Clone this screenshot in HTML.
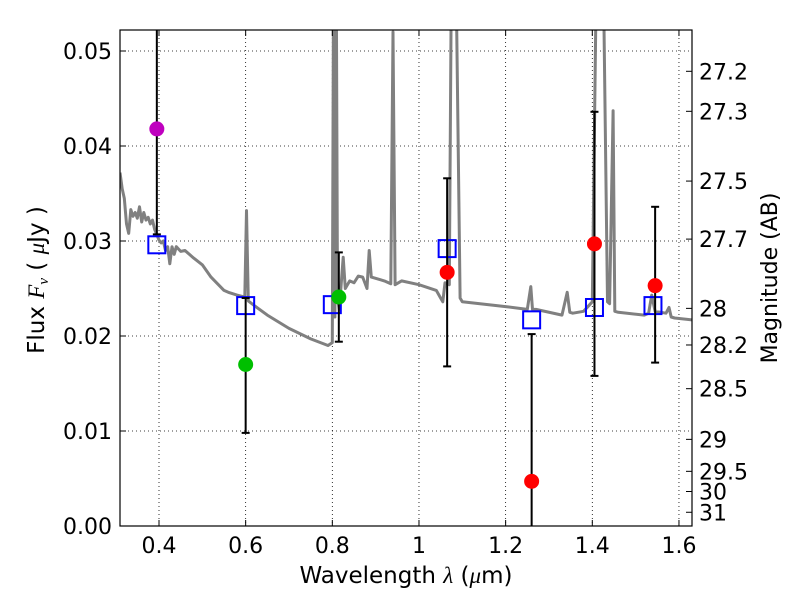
<!DOCTYPE html>
<html><head><meta charset="utf-8"><style>
body{margin:0;background:#fff}
svg text{font-family:"DejaVu Sans","Liberation Sans",sans-serif;fill:#000}
</style></head><body>
<svg id="chart" width="800" height="600" xmlns="http://www.w3.org/2000/svg">
<defs><clipPath id="clip"><rect x="120" y="30" width="572" height="496"/></clipPath></defs>
<g id="grid"></g>
<g id="spec" clip-path="url(#clip)"></g>
<g id="marks" clip-path="url(#clip)"></g>
<rect x="120" y="30" width="572" height="496" fill="none" stroke="#000" stroke-width="1.2"/>
<g id="axes"></g>
<text x="406" y="583" font-size="23" text-anchor="middle">Wavelength  <tspan font-family="Liberation Serif" font-style="italic">λ</tspan> (<tspan font-family="Liberation Serif" font-style="italic">μ</tspan>m)</text>
<text transform="translate(44,280) rotate(-90)" font-size="23" text-anchor="middle">Flux  <tspan font-family="Liberation Serif" font-style="italic">F</tspan><tspan font-family="Liberation Serif" font-style="italic" font-size="15" dy="4">ν</tspan><tspan dy="-4">  ( </tspan><tspan font-family="Liberation Serif" font-style="italic">μ</tspan>Jy )</text>
<text transform="translate(777,278) rotate(-90)" font-size="22" text-anchor="middle">Magnitude (AB)</text>
</svg>
<script>
const xTicks=[0.4,0.6,0.8,1.0,1.2,1.4,1.6];
const xTickLabels=["0.4","0.6","0.8","1","1.2","1.4","1.6"];
const yTicks=[0,0.01,0.02,0.03,0.04,0.05];
const yTickLabels=["0.00","0.01","0.02","0.03","0.04","0.05"];
const magTicks=[27.2,27.3,27.5,27.7,28,28.2,28.5,29,29.5,30,31];
const specWave=[0.31,0.315,0.32,0.325,0.33,0.335,0.34,0.345,0.35,0.355,0.36,0.365,0.37,0.375,0.38,0.385,0.39,0.40,0.405,0.41,0.415,0.42,0.425,0.43,0.435,0.44,0.45,0.46,0.47,0.48,0.50,0.52,0.55,0.56,0.58,0.598,0.602,0.606,0.62,0.65,0.70,0.75,0.79,0.80,0.803,0.806,0.809,0.812,0.816,0.82,0.825,0.83,0.84,0.85,0.86,0.87,0.88,0.885,0.89,0.92,0.935,0.94,0.945,0.96,1.0,1.04,1.05,1.055,1.06,1.07,1.075,1.085,1.095,1.10,1.2,1.25,1.258,1.262,1.27,1.33,1.342,1.348,1.355,1.38,1.40,1.41,1.425,1.435,1.44,1.448,1.452,1.46,1.52,1.53,1.537,1.545,1.57,1.577,1.582,1.59,1.63];
const specFlux=[0.0372,0.0355,0.0345,0.0318,0.0308,0.0333,0.0326,0.0330,0.0324,0.0336,0.0320,0.0330,0.0322,0.0325,0.0318,0.0322,0.0312,0.0301,0.0298,0.0300,0.0290,0.0294,0.0276,0.0294,0.0286,0.0294,0.0289,0.0290,0.0286,0.0282,0.0275,0.0262,0.0248,0.0246,0.0243,0.0241,0.0332,0.0237,0.0232,0.0222,0.0208,0.0197,0.0190,0.0193,0.0600,0.0220,0.0600,0.0240,0.0228,0.0252,0.0283,0.0250,0.0258,0.0256,0.0263,0.0262,0.0250,0.0290,0.0262,0.0258,0.0255,0.0520,0.0254,0.0258,0.0254,0.0248,0.0240,0.0236,0.0256,0.0254,0.0600,0.0600,0.0240,0.0236,0.0231,0.0228,0.0252,0.0228,0.0228,0.0222,0.0246,0.0225,0.0224,0.0226,0.0236,0.0600,0.0600,0.0236,0.0234,0.0437,0.0226,0.0225,0.0222,0.0224,0.0243,0.0226,0.0224,0.0230,0.0220,0.0219,0.0217];
const modelWave=[0.395,0.60,0.80,1.065,1.26,1.405,1.54];
const modelFlux=[0.0296,0.0232,0.0233,0.0292,0.0217,0.0230,0.0232];
const obsWave=[0.395,0.60,0.815,1.065,1.26,1.405,1.545];
const obsFlux=[0.0418,0.0170,0.0241,0.0267,0.0047,0.0297,0.0253];
const obsLow=[0.0307,0.0098,0.0194,0.0168,-0.005,0.0158,0.0172];
const obsHigh=[0.080,0.0240,0.0288,0.0366,0.0202,0.0436,0.0336];
const obsColor=["#bf00bf","#00bf00","#00bf00","#ff0000","#ff0000","#ff0000","#ff0000"];

const X=w=>159+(w-0.4)*433.3;
const Y=f=>526-f*9500;
const NS="http://www.w3.org/2000/svg";
function mk(tag,attrs,parent){const e=document.createElementNS(NS,tag);for(const k in attrs)e.setAttribute(k,attrs[k]);document.getElementById(parent).appendChild(e);return e;}

xTicks.forEach((t,i)=>{
  const x=X(t);
  if(x>121&&x<691){const g=mk('line',{x1:x,x2:x,y1:30,y2:526,stroke:'#000','stroke-width':0.8,'stroke-dasharray':'1,3'},'grid');
  
  }
  const a=mk('line',{x1:x,x2:x,y1:526,y2:520,stroke:'#000'},'axes');
  
  
  const b=mk('line',{x1:x,x2:x,y1:30,y2:36,stroke:'#000'},'axes');
  
  
  const tx=mk('text',{x:x,y:553,'font-size':22,'text-anchor':'middle'},'axes');
  tx.textContent=xTickLabels[i];
  
  
});
yTicks.forEach((t,i)=>{
  const y=Y(t);
  if(y>31&&y<525){const g=mk('line',{x1:120,x2:692,y1:y,y2:y,stroke:'#000','stroke-width':0.8,'stroke-dasharray':'1,3'},'grid');
  
  }
  const a=mk('line',{x1:120,x2:126,y1:y,y2:y,stroke:'#000'},'axes');
  
  
  const tx=mk('text',{x:112,y:y+8,'font-size':22,'text-anchor':'end'},'axes');
  tx.textContent=yTickLabels[i];
  
  
});
magTicks.forEach(m=>{
  const f=Math.pow(10,(23.9-m)/2.5);const y=Y(f);
  const a=mk('line',{x1:686,x2:692,y1:y,y2:y,stroke:'#000'},'axes');
  
  
  const tx=mk('text',{x:699,y:y+8,'font-size':22},'axes');
  tx.textContent=String(m);
  
  
});
const pts=specWave.map((w,i)=>X(w).toFixed(1)+','+Y(specFlux[i]).toFixed(1)).join(' ');
const sp=mk('polyline',{points:pts,fill:'none',stroke:'#808080','stroke-width':3,'stroke-linejoin':'round'},'spec');


modelWave.forEach((w,i)=>{
  const r=mk('rect',{x:X(w)-8.5,y:Y(modelFlux[i])-8.5,width:17,height:17,fill:'none',stroke:'#0000ff','stroke-width':2},'marks');
  
  
});
obsWave.forEach((w,i)=>{
  const x=X(w);
  const l=mk('line',{x1:x,x2:x,y1:Y(obsLow[i]),y2:Y(obsHigh[i]),stroke:'#000','stroke-width':2},'marks');
  
  
  [obsLow[i],obsHigh[i]].forEach(v=>{
    const c=mk('line',{x1:x-4,x2:x+4,y1:Y(v),y2:Y(v),stroke:'#000','stroke-width':2},'marks');
    
    
  });
  const d=mk('circle',{cx:x,cy:Y(obsFlux[i]),r:7.5,fill:obsColor[i]},'marks');
  
  
});
</script>
</body></html>
